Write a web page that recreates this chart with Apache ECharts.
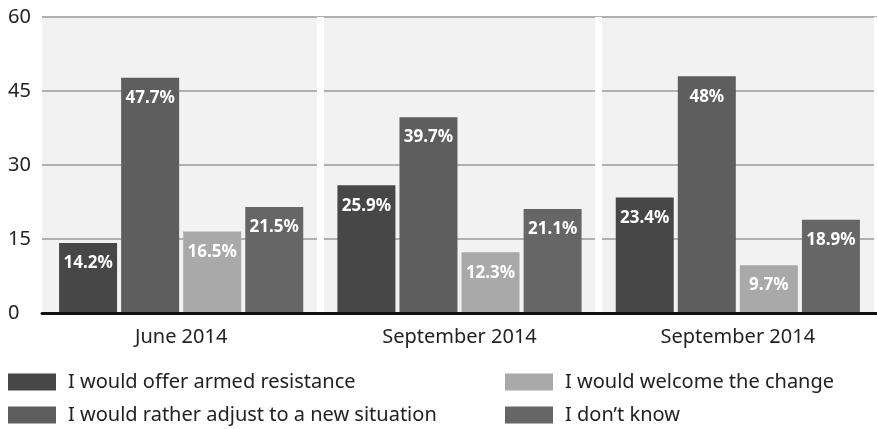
<!DOCTYPE html>
<html>
<head>
<meta charset="utf-8">
<script src="https://cdn.jsdelivr.net/npm/echarts@6/dist/echarts.min.js"></script>
<style>html,body{margin:0;padding:0;background:#fff}#c{width:877px;height:429px}</style>
</head>
<body>
<div id="c"></div>
<script>
var categories = ['June 2014', 'September 2014', 'September 2014'];
var seriesNames = ['I would offer armed resistance', 'I would rather adjust to a new situation', 'I would welcome the change', 'I don\u2019t know'];
var armed = [14.2, 25.9, 23.4];
var adjust = [47.7, 39.7, 48];
var welcome = [16.5, 12.3, 9.7];
var dontKnow = [21.5, 21.1, 18.9];
var yTicks = [0, 15, 30, 45, 60];

var colors = ['#474747', '#5e5e5e', '#a9a9a9', '#666666'];
var values = [armed, adjust, welcome, dontKnow];
var font = '"Noto Sans", sans-serif';

var chart = echarts.init(document.getElementById('c'), null, {renderer: 'canvas'});
var series = values.map(function (v, i) {
  return {
    name: seriesNames[i],
    type: 'bar',
    data: v,
    z: 3,
    barWidth: 58,
    barGap: '7%',
    itemStyle: {color: colors[i]},
    label: {
      show: true,
      position: 'insideTop',
      distance: 12,
      color: '#fff',
      fontFamily: font,
      fontWeight: 'bold',
      fontSize: 17,
      formatter: function (p) { return p.value + '%'; }
    }
  };
});
series.push({
  name: 'grid',
  type: 'line',
  data: [],
  z: 1,
  silent: true,
  markLine: {
    silent: true,
    z: 1,
    symbol: 'none',
    label: {show: false},
    lineStyle: {color: '#b0b0b0', width: 2, type: 'solid'},
    data: yTicks.slice(1).map(function (t) { return {yAxis: t}; })
  }
});

function legend(names, left) {
  return {
    data: names,
    orient: 'vertical',
    left: left,
    top: 372,
    height: 60,
    padding: 0,
    itemWidth: 48,
    itemHeight: 17,
    itemGap: 13,
    icon: 'rect',
    selectedMode: false,
    textStyle: {fontFamily: font, fontSize: 20, color: '#222', lineHeight: 20, padding: [0, 0, 0, 7]}
  };
}

chart.setOption({
  animation: false,
  backgroundColor: '#fff',
  grid: {left: 42, right: 0, top: 17, bottom: 116, show: true, backgroundColor: '#f2f2f2', borderWidth: 0},
  legend: [legend([seriesNames[0], seriesNames[1]], 8), legend([seriesNames[2], seriesNames[3]], 505)],
  xAxis: {
    type: 'category',
    data: categories,
    z: 4,
    axisLine: {lineStyle: {color: '#111', width: 3}},
    axisTick: {show: false},
    axisLabel: {fontFamily: font, fontSize: 20, color: '#222', margin: 14},
    splitLine: {show: true, lineStyle: {color: '#fff', width: 7},
      interval: function (i) { return i > 0; }}
  },
  yAxis: {
    type: 'value',
    min: yTicks[0],
    max: yTicks[yTicks.length - 1],
    interval: 15,
    axisLine: {show: false},
    axisTick: {show: false},
    axisLabel: {fontFamily: font, fontSize: 20, color: '#222', align: 'left', margin: 34},
    splitLine: {show: false}
  },
  series: series
});
</script>
</body>
</html>
